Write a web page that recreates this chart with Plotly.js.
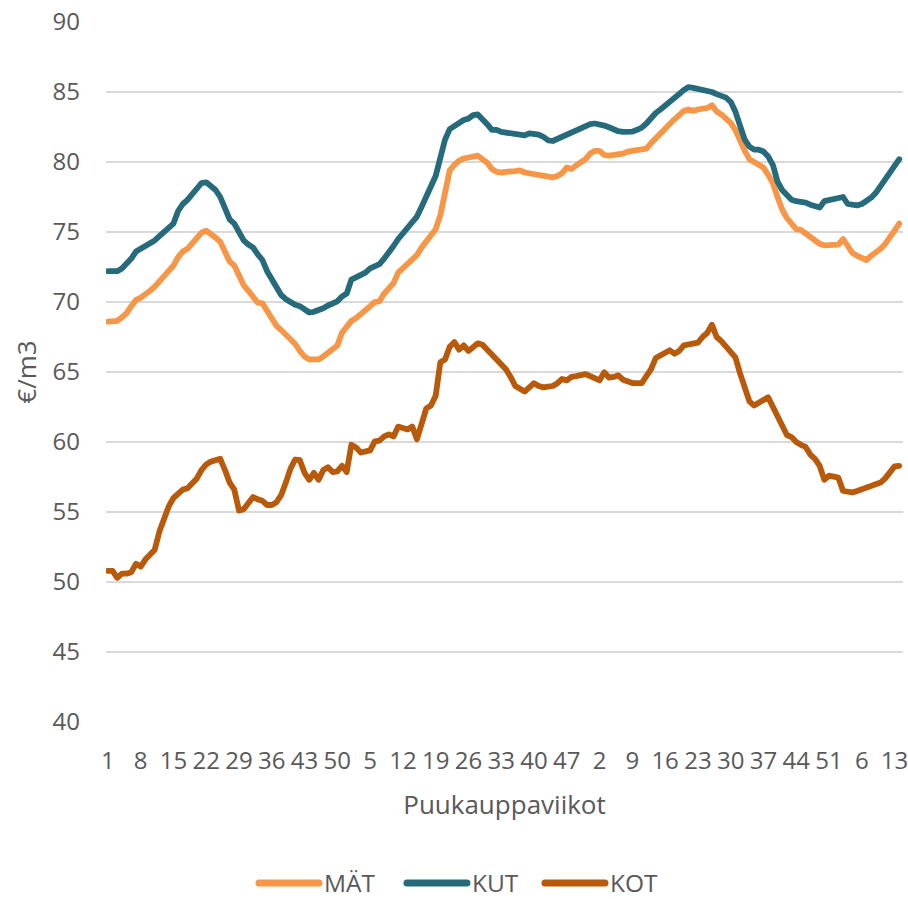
<!DOCTYPE html>
<html>
<head>
<meta charset="utf-8">
<script src="https://cdn.plot.ly/plotly-3.0.1.min.js"></script>
<style>
  html, body { margin:0; padding:0; background:#fff; overflow:hidden; }
  #chart { width:908px; height:899px; }
  .scatterlayer path.js-line { stroke-linejoin: round !important; stroke-linecap: round !important; }
  .legend .legendlines path { stroke-linecap: round !important; stroke-width: 7px !important; }
  .legend .scrollbox { clip-path: none !important; }
</style>
</head>
<body>
<div id="chart"></div>
<script>
// Week tick labels (every 7th week)
const weekTicks = ["1","8","15","22","29","36","43","50","5","12","19","26","33","40","47","2","9","16","23","30","37","44","51","6","13"];

// Series values (€/m3), one value per purchase week
const MAT = [
68.6,68.6,68.65,68.9,69.2,69.7,70.15,70.3,70.5,70.8,
71.1,71.5,71.9,72.2,72.6,73.2,73.6,73.8,74.2,74.55,
74.95,75.1,74.9,74.6,74.3,73.6,72.9,72.6,71.9,71.2,
70.8,70.3,69.95,69.9,69.4,68.8,68.3,68.0,67.65,67.3,
67.0,66.5,66.1,65.9,65.85,65.9,66.1,66.4,66.6,66.9,
67.8,68.3,68.65,68.85,69.1,69.4,69.7,70.0,70.05,70.6,
71.0,71.35,72.1,72.4,72.7,73.0,73.35,73.9,74.3,74.8,
75.2,76.2,78.0,79.4,79.8,80.1,80.25,80.33,80.35,80.45,
80.2,79.95,79.5,79.3,79.25,79.33,79.33,79.35,79.4,79.25,
79.2,79.2,79.15,79.1,79.0,78.9,79.0,79.2,79.6,79.5,
79.75,79.95,80.2,80.6,80.8,80.8,80.5,80.45,80.5,80.5,
80.6,80.74,80.75,80.85,80.9,80.95,81.35,81.7,82.1,82.4,
82.75,83.05,83.35,83.65,83.75,83.65,83.75,83.8,83.86,84.05,
83.6,83.4,83.15,82.8,82.3,81.5,80.8,80.2,80.0,79.9,
79.6,79.1,78.5,77.5,76.6,76.0,75.6,75.2,75.15,74.9,
74.6,74.35,74.15,74.05,74.1,74.1,74.1,74.5,73.9,73.5,
73.3,73.15,73.0,73.3,73.5,73.8,74.15,74.55,75.1,75.6
];

const KUT = [
72.2,72.2,72.2,72.4,72.7,73.1,73.6,73.8,73.9,74.2,
74.4,74.7,75.0,75.3,75.6,76.5,77.0,77.3,77.7,78.1,
78.5,78.55,78.3,78.0,77.5,76.6,75.9,75.6,75.0,74.4,
74.1,73.9,73.4,73.0,72.2,71.6,70.9,70.5,70.2,69.95,
69.8,69.7,69.5,69.25,69.3,69.4,69.55,69.75,69.9,70.05,
70.4,70.6,71.6,71.75,71.9,72.1,72.4,72.6,72.7,73.1,
73.5,74.0,74.5,74.9,75.3,75.6,76.1,76.8,77.5,78.1,
79.0,80.3,81.6,82.35,82.6,82.85,83.0,83.1,83.35,83.4,
83.1,82.7,82.3,82.3,82.15,82.1,82.05,81.95,81.85,81.9,
82.05,82.05,81.95,81.8,81.55,81.5,81.65,81.85,81.95,82.05,
82.3,82.45,82.55,82.7,82.75,82.7,82.6,82.48,82.3,82.2,
82.15,82.15,82.17,82.3,82.45,82.75,83.2,83.5,83.75,84.0,
84.25,84.5,84.85,85.15,85.35,85.3,85.25,85.2,85.15,85.0,
84.85,84.7,84.6,84.3,83.6,82.6,81.6,81.1,80.88,80.88,
80.75,80.4,79.8,78.6,78.0,77.65,77.3,77.2,77.2,77.1,
76.95,76.9,76.75,77.2,77.3,77.35,77.4,77.5,77.0,76.9,
76.9,77.0,77.2,77.45,77.8,78.25,78.75,79.2,79.7,80.2
];

const KOT = [
50.8,50.8,50.3,50.6,50.6,50.7,51.3,51.1,51.6,52.0,
52.3,53.6,54.5,55.4,56.0,56.3,56.6,56.7,57.0,57.4,
58.0,58.4,58.6,58.7,58.8,58.0,57.1,56.6,55.1,55.2,
55.6,56.07,55.9,55.8,55.5,55.5,55.7,56.2,57.1,58.1,
58.75,58.7,57.8,57.3,57.8,57.3,58.0,58.2,57.85,57.9,
58.3,57.85,59.8,59.6,59.25,59.3,59.4,60.05,60.1,60.4,
60.55,60.4,61.1,61.0,60.9,61.1,60.2,61.3,62.4,62.6,
63.3,65.7,65.9,66.8,67.14,66.6,66.9,66.5,66.85,67.05,
66.95,66.6,66.3,65.95,65.55,65.2,64.65,64.0,63.8,63.6,
63.9,64.2,64.0,63.9,63.95,64.0,64.2,64.5,64.4,64.65,
64.7,64.75,64.85,64.7,64.5,64.4,64.98,64.6,64.65,64.76,
64.45,64.3,64.21,64.2,64.21,64.7,65.2,66.0,66.15,66.3,
66.55,66.3,66.5,66.9,67.0,67.0,67.1,67.5,67.8,68.38,
67.5,67.2,66.8,66.3,66.05,64.9,63.8,62.9,62.6,62.85,
63.0,63.2,62.5,61.8,61.0,60.5,60.35,60.0,59.8,59.65,
59.1,58.8,58.3,57.3,57.6,57.5,57.45,56.5,56.4,56.4,
56.5,56.6,56.75,56.85,56.9,57.1,57.4,57.8,58.26,58.3
];

const seriesNames = ["MÄT","KUT","KOT"];
const seriesColors = ["#F79646","#266B7B","#B95A0B"];
const legendWidths = [73, 63, 52];
const yTicks = [40,45,50,55,60,65,70,75,80,85,90];

const xIdx = MAT.map((_, i) => i);
const tickPos = weekTicks.map((_, k) => k * 7);

const traces = [MAT, KUT, KOT].map((vals, s) => ({
  type: 'scatter', mode: 'lines',
  x: xIdx, y: vals, name: seriesNames[s],
  line: { color: seriesColors[s], width: 5.8 },
  legendwidth: legendWidths[s],
  hoverinfo: 'skip'
}));

const layout = {
  width: 908, height: 899,
  margin: { l: 106, r: 5, t: 22, b: 177, pad: 0 },
  paper_bgcolor: '#ffffff', plot_bgcolor: '#ffffff',
  font: { family: 'Open Sans, sans-serif', size: 24, color: '#595959' },
  xaxis: {
    range: [-0.4, 169.8], tickmode: 'array', tickvals: tickPos, ticktext: weekTicks,
    showgrid: false, zeroline: false, showline: false, ticks: '', tickangle: 0,
    ticklabelstandoff: 22, ticklabeloverflow: 'allow', fixedrange: true, automargin: false,
    tickfont: { size: 24, color: '#595959' },
    title: { text: 'Puukauppaviikot', font: { size: 26, color: '#595959' }, standoff: 20 }
  },
  yaxis: {
    range: [40, 90], tickmode: 'array', tickvals: yTicks,
    gridcolor: '#D9D9D9', gridwidth: 1.5, zeroline: false, showline: false, ticks: '',
    ticklabelstandoff: 25, fixedrange: true, automargin: false,
    tickfont: { size: 24, color: '#595959' },
    title: { text: '€/m3', font: { size: 26, color: '#595959' }, standoff: 8 }
  },
  showlegend: true,
  legend: {
    orientation: 'h', xref: 'container', yref: 'container',
    x: 0.2797, xanchor: 'left', y: 0.0178, yanchor: 'middle',
    itemwidth: 60,
    font: { size: 24.5, color: '#595959' }, bgcolor: 'rgba(0,0,0,0)'
  }
};

Plotly.newPlot('chart', traces, layout, { displayModeBar: false, staticPlot: true });
</script>
</body>
</html>
